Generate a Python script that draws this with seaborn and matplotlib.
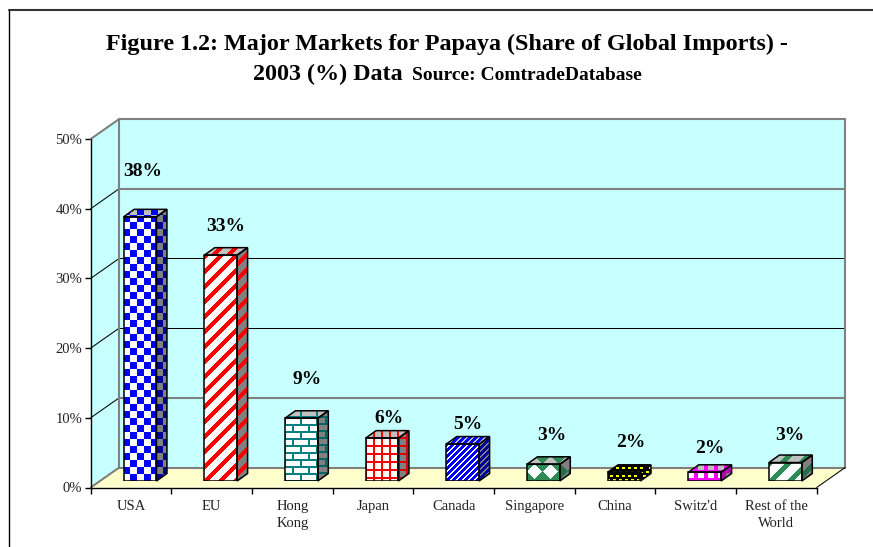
import numpy as np
import pandas as pd
import matplotlib
matplotlib.use("Agg")
import matplotlib.pyplot as plt
import matplotlib.colors as mcolors
from matplotlib.image import AxesImage
from matplotlib.lines import Line2D
from matplotlib.patches import Polygon
from matplotlib.transforms import Affine2D, IdentityTransform
import seaborn as sns

# ---------- data ----------
markets = ["USA", "EU", "Hong\nKong", "Japan", "Canada", "Singapore", "China", "Switz'd", "Rest of the\nWorld"]
shares = [37.9, 32.4, 9.0, 6.15, 5.3, 2.4, 1.25, 1.25, 2.65]
value_labels = ["38%", "33%", "9%", "6%", "5%", "3%", "2%", "2%", "3%"]
y_ticks = [0, 10, 20, 30, 40, 50]
title_line1 = "Figure 1.2: Major Markets for Papaya (Share of Global Imports) -"
title_line2 = "2003 (%) Data"
title_source = "Source: ComtradeDatabase"

# ---------- styles ----------
W, H = 873, 547
SERIF = "Liberation Serif"
WALL, FLOOR = "#C8FFFF", "#FFFFCC"
GREY = "#808080"
label_dx = [2.5, 4.5, 5.5, 7, 5, 8, 6.5, 5.5, 4]
label_dy = [45, 29, 39, 20, 20, 29, 30, 24, 27]
side_shade = [0.6, 1.0, 0.8, 0.85, 0.6, 0.8, 0.8, 0.7, 0.8]
DEPTH = (10.5, 7.5)


def px_rect(x0, x1, ytop, ybot):
    return [x0 / W, 1 - ybot / H, (x1 - x0) / W, (ybot - ytop) / H]


def checker(u, v):
    return ((u // 7) + (v // 7)) % 2 == 0
def stripes_wide(u, v):
    return (u + v) % 15 < 6
def bricks(u, v):
    row = v // 7
    return ((v % 7) < 2) | (((u + 8 * (row % 2)) % 16) < 2)
def grid(u, v):
    return (u % 8 < 2) | (v % 8 < 2)
def stripes_fine(u, v):
    return (u + v) % 6 < 4
def diamonds(u, v):
    return (np.abs((u % 16) - 8) + np.abs((v % 16) - 8)) >= 8
def confetti(u, v):
    row = v // 4
    return ~(((u + 3 * (row % 2)) % 6 < 3) & (v % 4 < 2))
def dots(u, v):
    row = v // 8
    return ~(((u + 5 * (row % 2)) % 10 < 6) & ((v + 6) % 8 < 5))
def stripes_mid(u, v):
    return (u + v) % 19 < 7

patterns = [
    (checker, "#0000FF", None),
    (stripes_wide, "#FF0000", None),
    (bricks, "#008080", None),
    (grid, "#FF0000", None),
    (stripes_fine, "#0000FF", None),
    (diamonds, "#2E8B57", None),
    (confetti, "#000000", "#FFFF00"),
    (dots, "#FF00FF", None),
    (stripes_mid, "#2E8B57", None),
]

sns.set_theme(style="white")
plt.rcParams["font.family"] = [SERIF, "DejaVu Serif"]
fig = plt.figure(figsize=(W / 100, H / 100), dpi=100, facecolor="white")

# ---------- front plane: axis, ticks, wall, floor ----------
ax = fig.add_axes(px_rect(90.7, 816.7, 139, 487.5), facecolor="none", zorder=1)
n = len(markets)
ax.set_xlim(-0.5, n - 0.5)
ax.set_ylim(0, 50)
x0, x1 = ax.get_xlim()
y0, y1 = ax.get_ylim()
back = ax.transData + Affine2D().translate(28.5, 20)
front = ax.transData


def to_px(trans, pts):
    return trans.transform(pts)


floor_pts = np.vstack([to_px(front, [(x0, 0), (x1, 0)]), to_px(back, [(x1, 0), (x0, 0)])])
side_pts = np.vstack([to_px(front, [(x0, 0), (x0, y1)]), to_px(back, [(x0, y1), (x0, 0)])])
back_pts = to_px(back, [(x0, 0), (x1, 0), (x1, y1), (x0, y1)])
for pts, col in [(side_pts, WALL), (back_pts, WALL), (floor_pts, FLOOR)]:
    ax.add_patch(Polygon(pts, closed=True, fc=col, ec="none", transform=IdentityTransform(),
                         clip_on=False, zorder=0))

for t in y_ticks:
    strong = t in (0, 10, 40, 50)
    col, lw = (GREY, 1.5) if strong else ("black", 0.75)
    a, b = to_px(back, [(x0, t), (x1, t)])
    ax.add_line(Line2D([a[0], b[0]], [a[1], b[1]], color=col, lw=lw,
                       transform=IdentityTransform(), clip_on=False, zorder=1))
    c = to_px(front, [(x0, t)])[0]
    dcol, dlw = (GREY, 1.5) if t in (0, 50) else ("black", 0.75)
    ax.add_line(Line2D([c[0], a[0]], [c[1], a[1]], color=dcol, lw=dlw,
                       transform=IdentityTransform(), clip_on=False, zorder=1))
# back wall verticals and right floor edge
for x in (x0, x1):
    a, b = to_px(back, [(x, 0), (x, y1)])
    ax.add_line(Line2D([a[0], b[0]], [a[1], b[1]], color=GREY, lw=1.5,
                       transform=IdentityTransform(), clip_on=False, zorder=1))
a, b = to_px(front, [(x1, 0)])[0], to_px(back, [(x1, 0)])[0]
ax.add_line(Line2D([a[0], b[0]], [a[1], b[1]], color="black", lw=0.75,
                   transform=IdentityTransform(), clip_on=False, zorder=1))

for s in ("top", "right"):
    ax.spines[s].set_visible(False)
for s in ("left", "bottom"):
    ax.spines[s].set_color("black")
    ax.spines[s].set_linewidth(1.0)
ax.set_yticks(y_ticks)
ax.set_yticklabels([f"{t}%" for t in y_ticks], fontsize=10.5, color="#222222")
ax.set_xticks(np.arange(n + 1) - 0.5)
ax.set_xticklabels([])
ax.set_xticks(np.arange(n), labels=markets, minor=True, fontsize=10.5, color="#222222",
              linespacing=1.4)
ax.tick_params(axis="y", which="major", length=4, width=1, color="black", pad=2, left=True)
ax.tick_params(axis="x", which="major", length=4, width=1, color="black", bottom=True)
ax.tick_params(axis="x", which="minor", length=0, pad=9)
ax.grid(False)

# ---------- bar plane: seaborn bars, shifted into the chart's depth ----------
bx = fig.add_axes(px_rect(99.7, 825.7, 132.5, 481), facecolor="none", zorder=2)
df = pd.DataFrame({"market": markets, "share": shares})
sns.barplot(data=df, x="market", y="share", hue="market", dodge=False, width=0.407,
            palette=[p[1] for p in patterns], legend=False, ax=bx)
bx.set_xlim(-0.5, n - 0.5)
bx.set_ylim(0, 50)
bx.set_axis_off()


def rgb(c):
    return np.array(mcolors.to_rgb(c))


def add_pattern(pts, func, fg, bg):
    """Screen-aligned pixel pattern clipped to the polygon pts (display coordinates)."""
    xa, ya = np.floor(pts.min(axis=0)).astype(int)
    xb, yb = np.ceil(pts.max(axis=0)).astype(int)
    xs = np.arange(xa, xb)
    ys = np.arange(yb - 1, ya - 1, -1)
    gx, gy = np.meshgrid(xs, ys)
    mask = func(gx - xa, yb - gy)
    arr = np.where(mask[..., None], rgb(fg), rgb(bg))
    im = AxesImage(bx, interpolation="nearest", origin="upper", zorder=1)
    im.set_data(arr)
    im.set_extent((xa, xb, ya, yb))
    im.set_transform(IdentityTransform())
    bx.add_image(im)
    clip = Polygon(pts, closed=True, transform=IdentityTransform())
    im.set_clip_path(clip.get_path(), IdentityTransform())
    im.set_clip_box(fig.bbox)


bars = list(bx.patches)
dx, dy = DEPTH
for bar, (func, fg, alt_bg), text, ldx, ldy, val, shade, i in zip(
        bars, patterns, value_labels, label_dx, label_dy, shares, side_shade, range(n)):
    e = bar.get_window_extent(fig.canvas.get_renderer())
    l, r, b, t = e.x0, e.x1, e.y0, e.y1
    front_bg = alt_bg or "#FFFFFF"
    side_bg = alt_bg or GREY
    top_bg = alt_bg or "#C0C0C0"
    side_fg = rgb(fg) * shade
    face = np.array([(l, b), (r, b), (r, t), (l, t)])
    side = np.array([(r, b), (r + dx, b + dy), (r + dx, t + dy), (r, t)])
    top = np.array([(l, t), (r, t), (r + dx, t + dy), (l + dx, t + dy)])
    add_pattern(face, func, fg, front_bg)
    add_pattern(side, func, side_fg, side_bg)
    add_pattern(top, func, fg, top_bg)
    for poly in (side, top):
        bx.add_patch(Polygon(poly, closed=True, fc="none", ec="black", lw=1.1,
                             transform=IdentityTransform(), clip_on=False, zorder=3))
    bar.set_facecolor("none")
    bar.set_edgecolor("black")
    bar.set_linewidth(1.1)
    bar.set_zorder(3)
    bx.annotate(text, xy=(i, val), xytext=(ldx, ldy), textcoords="offset pixels",
                ha="center", va="center", fontsize=14, fontweight="bold", color="black",
                annotation_clip=False, zorder=4)

# ---------- title and frame ----------
fig.text(446.5 / W, 1 - 50 / H, title_line1, ha="center", va="baseline", fontsize=17.4,
         fontweight="bold", color="black")
fig.text(253 / W, 1 - 80 / H, title_line2, ha="left", va="baseline", fontsize=17.4,
         fontweight="bold", color="black")
fig.text(412 / W, 1 - 80 / H, title_source, ha="left", va="baseline", fontsize=14,
         fontweight="bold", color="black")
fig.add_artist(Line2D([8.5 / W, 1], [1 - 9.5 / H] * 2, color="#333333", lw=1.5))
fig.add_artist(Line2D([8.5 / W] * 2, [0, 1 - 9.5 / H], color="black", lw=1.0))

fig.savefig("out.png", dpi=100, facecolor="white")
